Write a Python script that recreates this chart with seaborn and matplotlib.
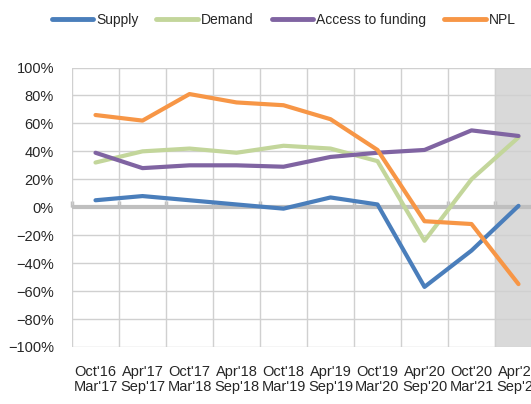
import matplotlib
matplotlib.use("Agg")
import matplotlib.pyplot as plt
import seaborn as sns
import pandas as pd
import numpy as np
from matplotlib.ticker import FixedLocator, PercentFormatter

# survey periods (two-line labels)
periods = ["Oct'16\nMar'17", "Apr'17\nSep'17", "Oct'17\nMar'18", "Apr'18\nSep'18",
           "Oct'18\nMar'19", "Apr'19\nSep'19", "Oct'19\nMar'20", "Apr'20\nSep'20",
           "Oct'20\nMar'21", "Apr'21\nSep'21"]

supply = [5, 8, 5, 2, -1, 7, 2, -57, -31, 1]
demand = [32, 40, 42, 39, 44, 42, 33, -24, 20, 50]
access = [39, 28, 30, 30, 29, 36, 39, 41, 55, 51]
npl = [66, 62, 81, 75, 73, 63, 41, -10, -12, -55]

series = ["Supply", "Demand", "Access to funding", "NPL"]
colors = ["#4A7EBB", "#C3D69B", "#8064A2", "#F79646"]

df = pd.DataFrame({
    "period": list(range(len(periods))) * 4,
    "value": supply + demand + access + npl,
    "series": np.repeat(series, len(periods)),
})

sns.set_style("white")
plt.rcParams["font.family"] = ["Liberation Sans", "DejaVu Sans"]
plt.rcParams["font.size"] = 10.5

fig = plt.figure(figsize=(5.31, 4.04), dpi=100)
ax = fig.add_axes([72 / 531, 57 / 404, 470 / 531, 279.5 / 404])

# shaded last period
ax.axvspan(len(periods) - 1.5, len(periods) - 0.5, color="#D9D9D9", zorder=0)

sns.lineplot(data=df, x="period", y="value", hue="series", hue_order=series,
             palette=colors, linewidth=3, ax=ax, legend=False, zorder=3)

ax.set_xlim(-0.5, len(periods) - 0.5)
ax.set_ylim(-100, 100)
ax.set_yticks(range(-100, 101, 20))
ax.yaxis.set_major_formatter(PercentFormatter(decimals=0))
ax.set_xticks(range(len(periods)))
ax.set_xticklabels(periods, linespacing=1.05)
ax.xaxis.set_minor_locator(FixedLocator(np.arange(-0.5, len(periods), 1)))
ax.grid(axis="y", which="major", color="#D0D0D0", linewidth=1, zorder=1)
ax.grid(axis="x", which="minor", color="#D0D0D0", linewidth=1, zorder=1)
ax.tick_params(axis="both", which="both", length=0)
ax.tick_params(axis="y", pad=13)
ax.tick_params(axis="x", pad=13)
ax.set_xlabel("")
ax.set_ylabel("")
for s in ax.spines.values():
    s.set_visible(False)

# zero axis line with tick marks
ax.axhline(0, color="#BFBFBF", linewidth=3, zorder=2)
sec = ax.secondary_xaxis(0.5)
sec.set_xticks(np.arange(-0.5, len(periods), 1))
sec.set_xticklabels([])
sec.tick_params(length=4, width=2.5, color="#BFBFBF")
sec.spines["bottom"].set_visible(False)

handles = [plt.Line2D([], [], color=c, linewidth=3.5, solid_capstyle="round") for c in colors]
fig.legend(handles, series, ncol=4, loc="center left", bbox_to_anchor=(46 / 531, 1 - 20 / 404),
           frameon=False, handlelength=3.0, handletextpad=0.2, columnspacing=1.3,
           borderaxespad=0, fontsize=10)

fig.savefig("out.png", dpi=100)
